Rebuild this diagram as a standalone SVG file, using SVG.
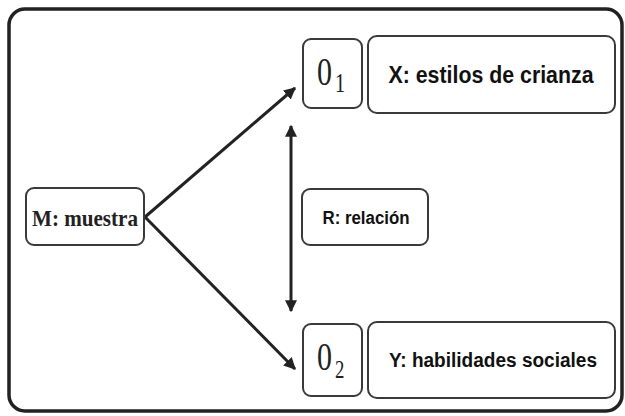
<svg xmlns="http://www.w3.org/2000/svg" width="625" height="416" viewBox="0 0 625 416">
  <style>
    .box { fill: #ffffff; stroke: #3a3a3a; stroke-width: 2; }
    .frame { fill: #ffffff; stroke: #222222; stroke-width: 3.5; }
    .lbl { font-family: "Liberation Sans", Arial, sans-serif; font-weight: bold; fill: #111111; }
    .ser { font-family: "Liberation Serif", "Times New Roman", serif; fill: #222222; }
    .conn { stroke: #222222; stroke-width: 3; fill: none; }
  </style>
  <defs>
    <marker id="ah" viewBox="0 0 10 10" refX="9" refY="5" markerWidth="4" markerHeight="4" orient="auto-start-reverse" markerUnits="strokeWidth">
      <path d="M0,0 L10,5 L0,10 z" fill="#222222"/>
    </marker>
  </defs>
  <rect width="625" height="416" fill="#ffffff"/>
  <rect id="frame" class="frame" x="9" y="9" width="613" height="402" rx="16"/>

  <g id="connectors">
    <line class="conn" x1="145" y1="217" x2="295" y2="88" marker-end="url(#ah)"/>
    <line class="conn" x1="145" y1="217" x2="295" y2="369" marker-end="url(#ah)"/>
    <line class="conn" x1="291" y1="126" x2="291" y2="311" marker-start="url(#ah)" marker-end="url(#ah)"/>
  </g>

  <g id="M">
    <rect class="box" x="26" y="188" width="118" height="57" rx="8"/>
    <text class="ser" x="85" y="226" font-size="23" font-weight="bold" text-anchor="middle" textLength="106" lengthAdjust="spacingAndGlyphs">M: muestra</text>
  </g>

  <g id="O1">
    <rect class="box" x="303" y="39" width="59" height="69" rx="8"/>
    <text class="ser" transform="translate(317,85) scale(0.75,1)"><tspan font-size="40">0</tspan><tspan font-size="27" dx="4" dy="7">1</tspan></text>
  </g>

  <g id="X">
    <rect class="box" x="368" y="36" width="247" height="77" rx="9"/>
    <text class="lbl" x="491" y="83" font-size="23" text-anchor="middle" textLength="205" lengthAdjust="spacingAndGlyphs">X: estilos de crianza</text>
  </g>

  <g id="R">
    <rect class="box" x="302" y="189" width="126" height="56" rx="8"/>
    <text class="lbl" x="366" y="224" font-size="18" text-anchor="middle" textLength="87" lengthAdjust="spacingAndGlyphs">R: relación</text>
  </g>

  <g id="O2">
    <rect class="box" x="303" y="324" width="59" height="72" rx="8"/>
    <text class="ser" transform="translate(317,370) scale(0.75,1)"><tspan font-size="40">0</tspan><tspan font-size="25" dx="4" dy="8">2</tspan></text>
  </g>

  <g id="Y">
    <rect class="box" x="368" y="322" width="247" height="76" rx="9"/>
    <text class="lbl" x="493" y="367" font-size="20" text-anchor="middle" textLength="208" lengthAdjust="spacingAndGlyphs">Y: habilidades sociales</text>
  </g>
</svg>
